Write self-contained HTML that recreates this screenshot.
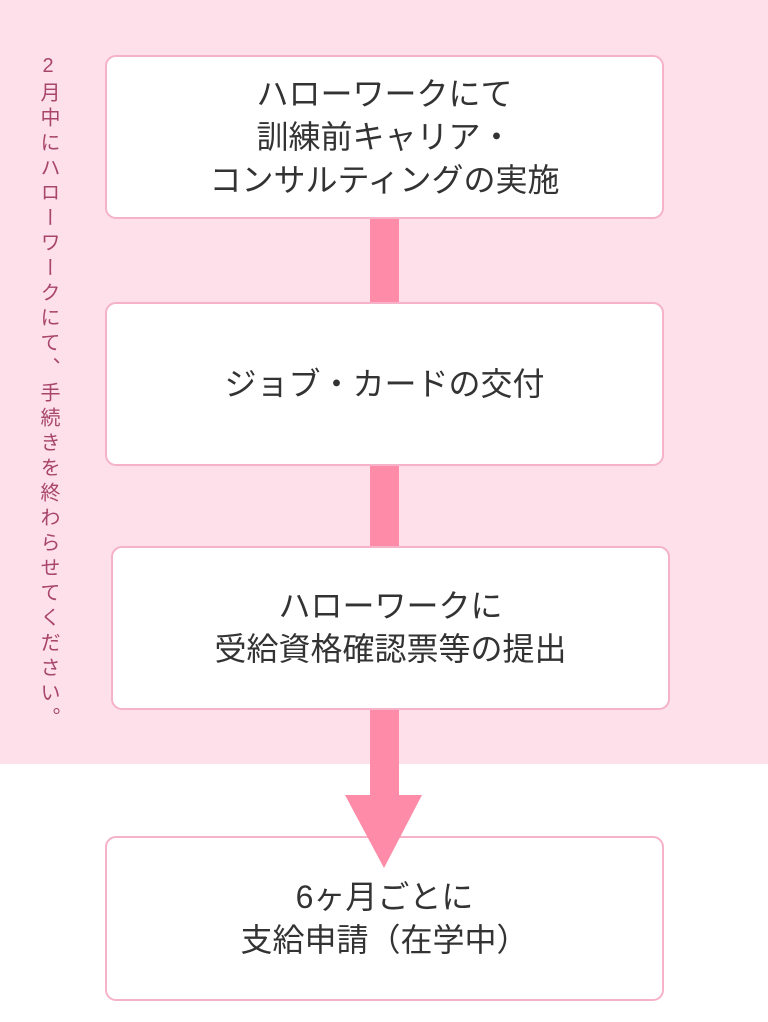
<!DOCTYPE html>
<html><head><meta charset="utf-8"><style>
body{margin:0;width:768px;height:1022px;position:relative;background:#fff;font-family:"Liberation Sans","Noto Sans CJK JP",sans-serif;overflow:hidden}
.bg{position:absolute;left:0;top:0;width:768px;height:764px;background:#fde0ea}
.box{position:absolute;background:#fff;border:2px solid #f5b2c8;border-radius:11px;box-sizing:border-box;display:flex;align-items:center;justify-content:center;text-align:center;font-size:32px;line-height:43px;color:#333}
.bar{position:absolute;left:370px;width:29px;background:#fe8ba8}
.vt{position:absolute;left:33px;top:55px;writing-mode:vertical-rl;text-orientation:upright;font-size:20px;letter-spacing:5px;color:#a8456a;line-height:30px}
</style></head><body>
<div class="bg"></div>
<div class="vt">2月中にハローワークにて、手続きを終わらせてください。</div>
<div class="bar" style="top:216px;height:88px"></div>
<div class="bar" style="top:463px;height:85px"></div>
<div class="bar" style="top:707px;height:90px"></div>
<div class="box" style="left:105px;top:55px;width:559px;height:164px">ハローワークにて<br>訓練前キャリア・<br>コンサルティングの実施</div>
<div class="box" style="left:105px;top:302px;width:559px;height:164px">ジョブ・カードの交付</div>
<div class="box" style="left:111px;top:546px;width:559px;height:164px">ハローワークに<br>受給資格確認票等の提出</div>
<div class="box" style="left:105px;top:836px;width:559px;height:165px">6ヶ月ごとに<br>支給申請（在学中）</div>
<svg style="position:absolute;left:0;top:0" width="768" height="1022"><polygon points="345,795 422,795 384,868" fill="#fe8ba8"/></svg>
</body></html>
